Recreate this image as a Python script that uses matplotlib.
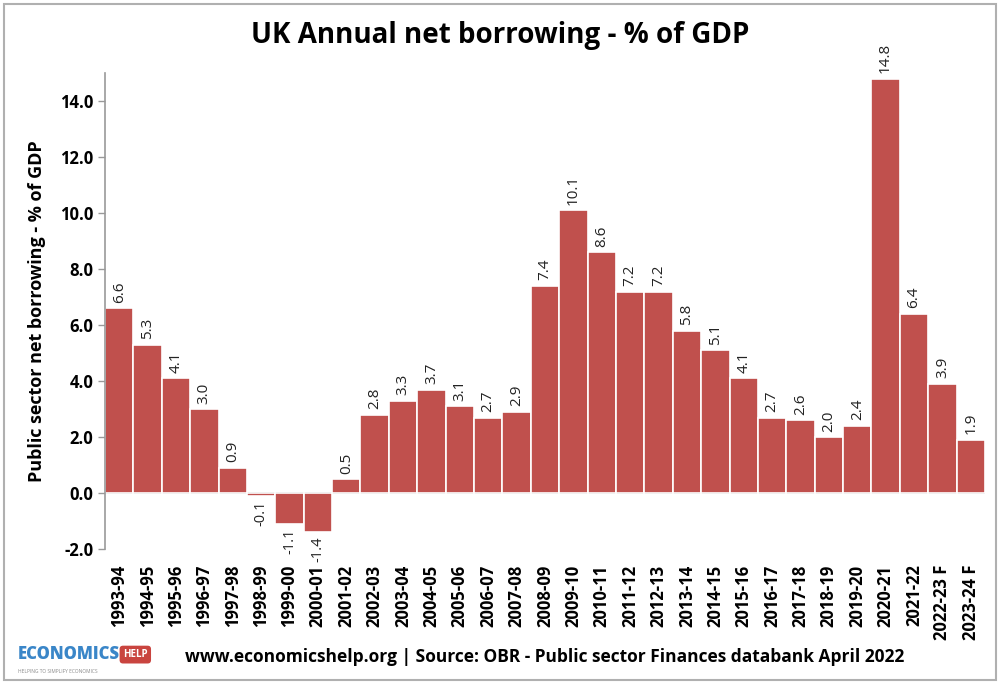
import numpy as np
import matplotlib.pyplot as plt
from matplotlib.patches import Rectangle

plt.rcParams['font.family'] = ['Open Sans', 'DejaVu Sans']

years = ['1993-94', '1994-95', '1995-96', '1996-97', '1997-98', '1998-99', '1999-00',
         '2000-01', '2001-02', '2002-03', '2003-04', '2004-05', '2005-06', '2006-07',
         '2007-08', '2008-09', '2009-10', '2010-11', '2011-12', '2012-13', '2013-14',
         '2014-15', '2015-16', '2016-17', '2017-18', '2018-19', '2019-20', '2020-21',
         '2021-22', '2022-23 F', '2023-24 F']
borrowing = [6.6, 5.3, 4.1, 3.0, 0.9, -0.1, -1.1, -1.4, 0.5, 2.8, 3.3, 3.7, 3.1, 2.7,
             2.9, 7.4, 10.1, 8.6, 7.2, 7.2, 5.8, 5.1, 4.1, 2.7, 2.6, 2.0, 2.4, 14.8,
             6.4, 3.9, 1.9]
yticks = [-2, 0, 2, 4, 6, 8, 10, 12, 14]

bar_col = '#C0504D'

fig = plt.figure(figsize=(10, 6.84), dpi=100)
ax = fig.add_axes([0.105, 0.197, 0.880, 0.696])

x = np.arange(len(years))
ax.bar(x, borrowing, width=1.0, color=bar_col, edgecolor='white', linewidth=1.2, zorder=2)

for xi, v in zip(x, borrowing):
    if v >= 0:
        ax.text(xi, v + 0.2, f'{v:.1f}', rotation=90, ha='center', va='bottom',
                fontsize=11, color='#222222', zorder=3)
    else:
        ax.text(xi, v - 0.15, f'{v:.1f}', rotation=90, ha='center', va='top',
                fontsize=10.5, color='#222222', zorder=3)

ax.axhline(0, color='#999999', lw=1.2, zorder=1)
ax.set_xlim(-0.5, len(years) - 0.5)
ax.set_ylim(-2, 15)
ax.set_yticks(yticks)
ax.set_yticklabels([f'{t:.1f}' for t in yticks], fontsize=12, fontweight='bold')
ax.set_xticks(x)
ax.set_xticklabels(years, rotation=90, fontsize=12, fontweight='bold')
ax.tick_params(axis='x', length=0, pad=11)
ax.tick_params(axis='y', direction='out', length=5, color='#999999', width=1)

for s in ['top', 'right', 'bottom']:
    ax.spines[s].set_visible(False)
ax.spines['left'].set_color('#999999')
ax.spines['left'].set_linewidth(1.2)

ax.set_ylabel('Public sector net borrowing - % of GDP', fontsize=13, fontweight='bold',
              labelpad=10)

fig.text(0.5, 0.948, 'UK Annual net borrowing - % of GDP', ha='center', va='center',
         fontsize=20, fontweight='bold')
fig.text(0.545, 0.040, 'www.economicshelp.org | Source: OBR - Public sector Finances databank April 2022',
         ha='center', va='center', fontsize=12.5, fontweight='bold')

# logo
fig.text(0.018, 0.043, 'ECONOMICS', ha='left', va='center', fontsize=12,
         fontweight='black', color='#3a86c8')
fig.text(0.123, 0.043, 'HELP', ha='left', va='center', fontsize=7, fontweight='bold',
         color='white', bbox=dict(boxstyle='round,pad=0.35', fc='#c9443f', ec='none'))
fig.text(0.018, 0.018, 'HELPING TO SIMPLIFY ECONOMICS', ha='left', va='center',
         fontsize=3.5, color='#888888')

# outer border
fig.patches.append(Rectangle((0.004, 0.006), 0.992, 0.988, transform=fig.transFigure,
                             fill=False, ec='#b0b0b0', lw=1.5))

fig.savefig('out.png', dpi=100)
